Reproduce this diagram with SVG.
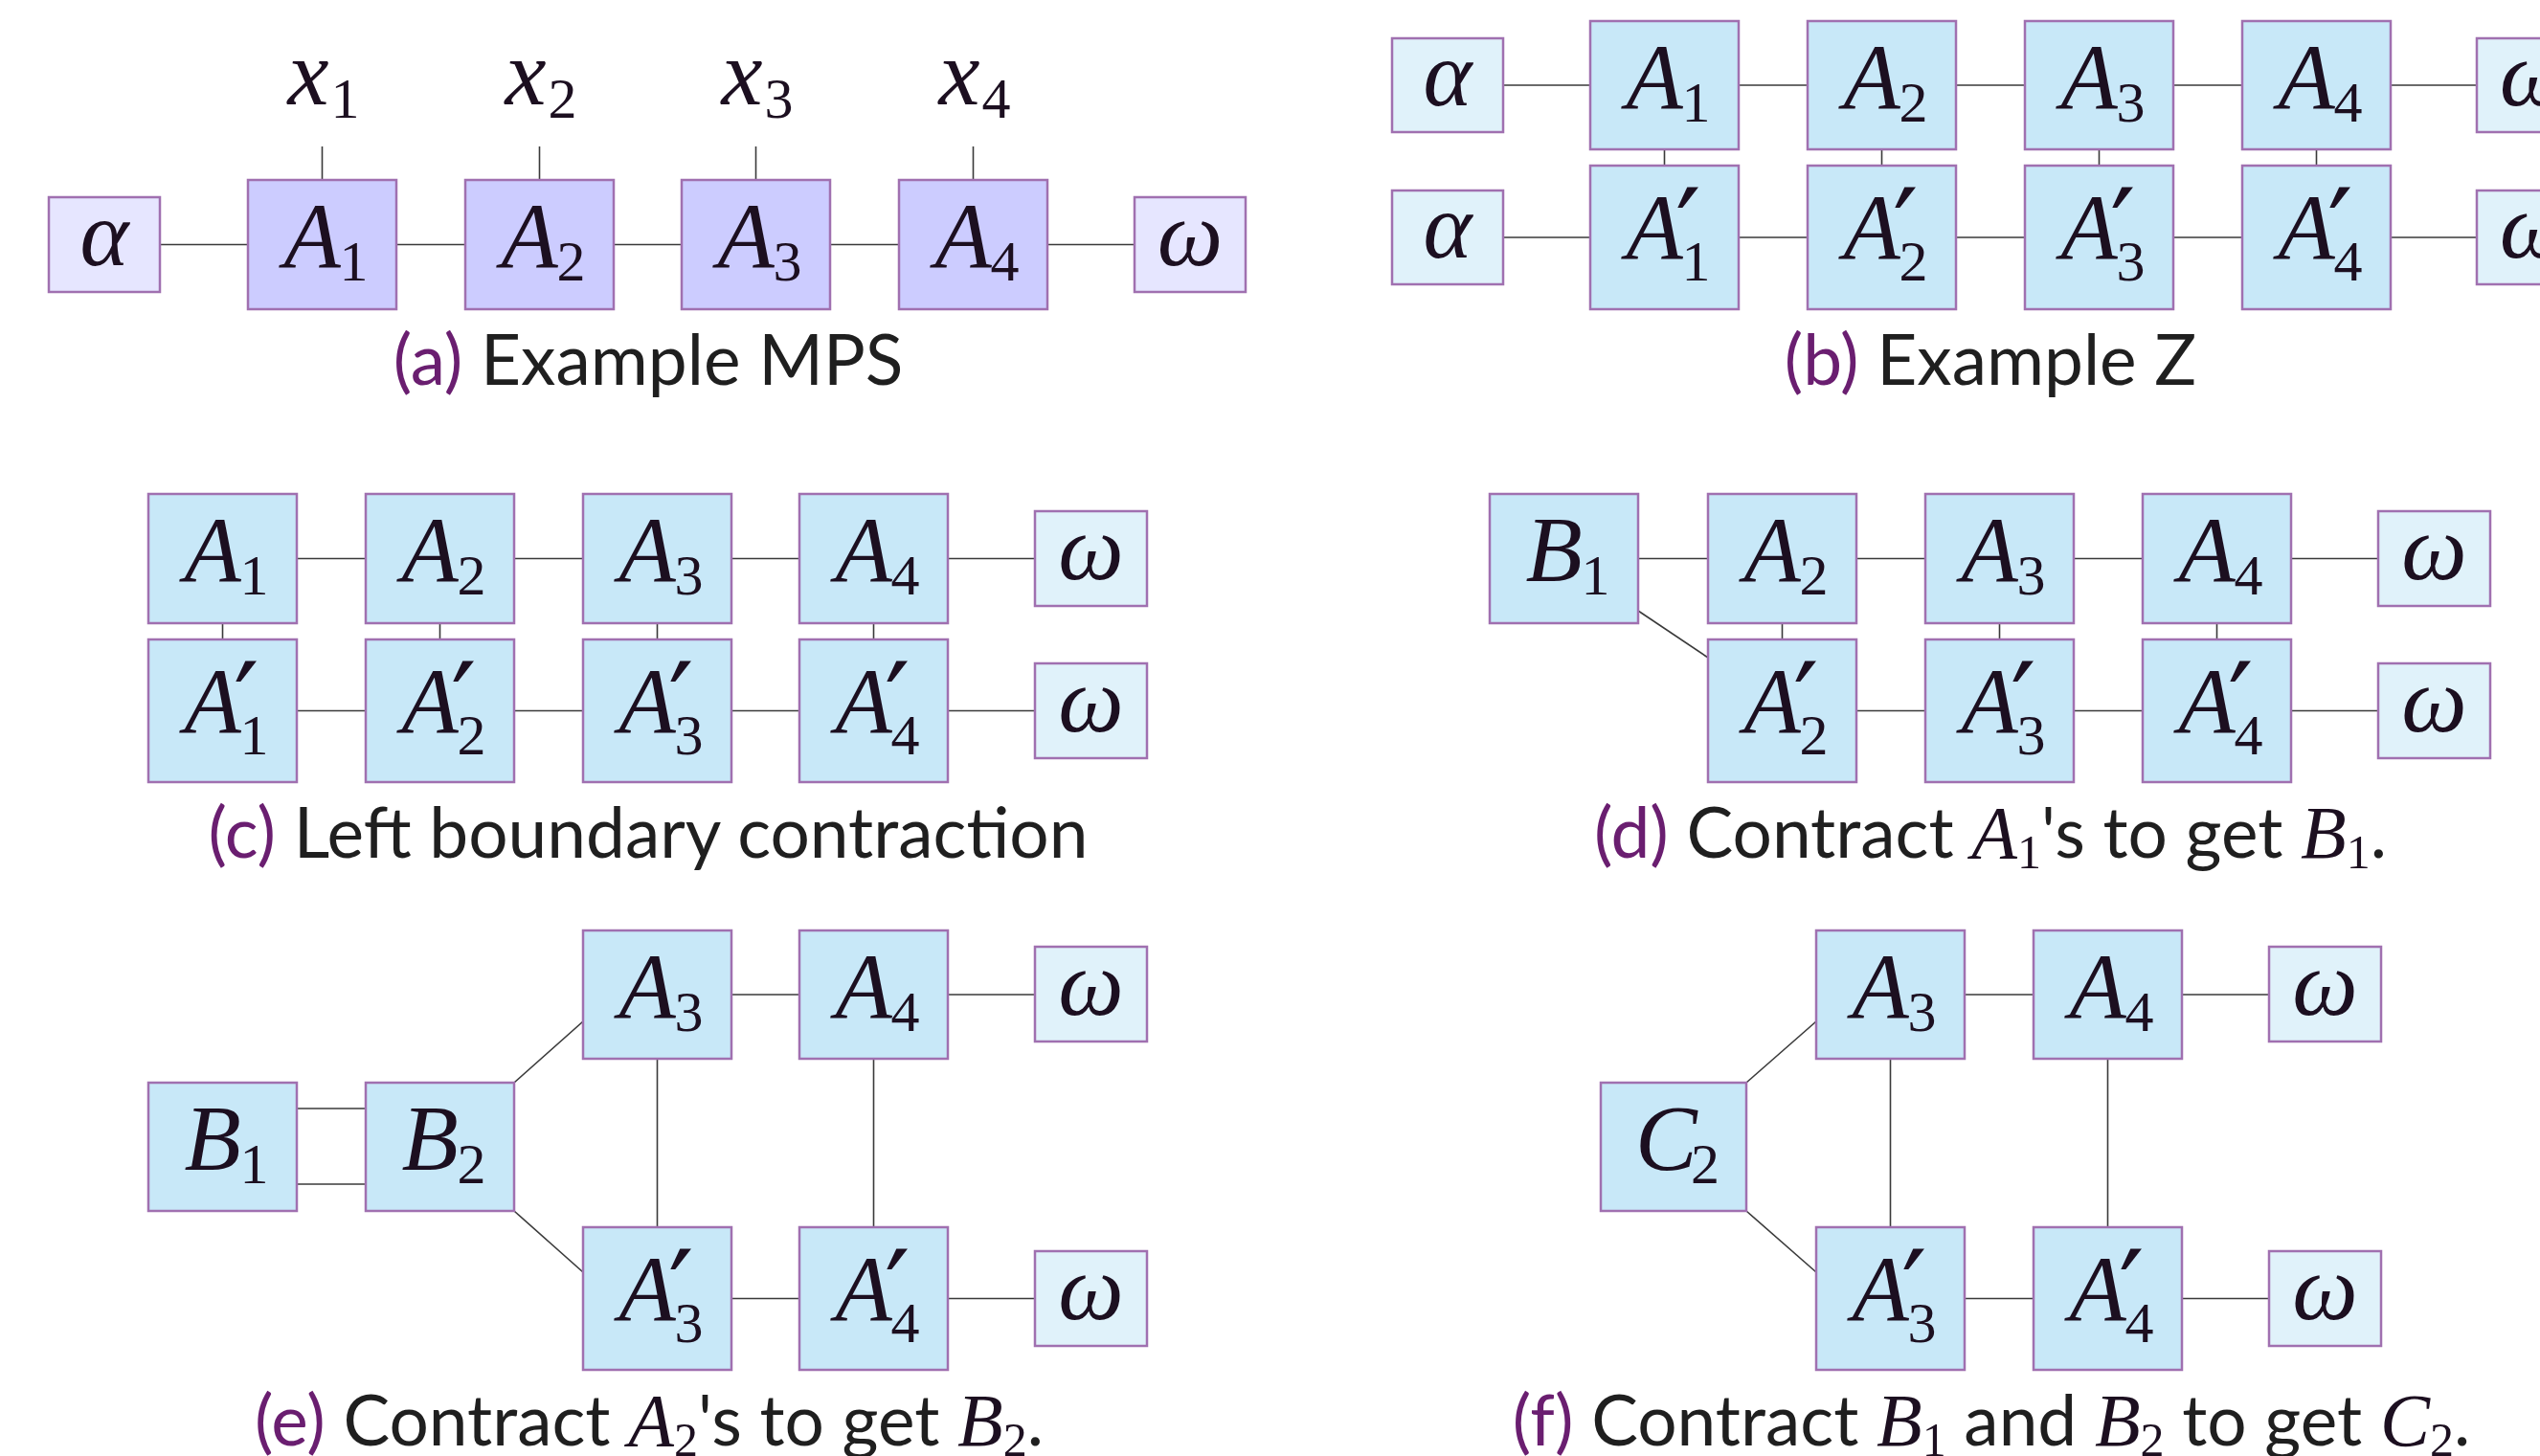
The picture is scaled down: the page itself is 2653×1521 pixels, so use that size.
<svg xmlns="http://www.w3.org/2000/svg" width="2653" height="1521" viewBox="0 0 2653 1521">
<style>
.lav{fill:#CCCCFF;stroke:#A070B0;stroke-width:2.5}
.lavE{fill:#E6E6FF;stroke:#A070B0;stroke-width:2.5}
.blu{fill:#C8E8F8;stroke:#A070B0;stroke-width:2.5}
.bluE{fill:#E0F2FA;stroke:#A070B0;stroke-width:2.5}
.m{font-family:"Liberation Serif",serif;font-style:italic;font-size:97px;fill:#1c0f20}
.s{font-style:normal;font-size:60px}
.p{font-family:"DejaVu Serif",serif;font-style:normal;font-size:118px}
.g{text-anchor:middle}
.cap{font-family:Lato,"Noto Sans",sans-serif;font-size:73px;fill:#1f1f1f;text-anchor:middle}
.lab{fill:#6A1E70}
.cm{font-family:"Liberation Serif",serif;font-style:italic;font-size:78px;fill:#1c0f20}
.cs{font-family:"Liberation Serif",serif;font-style:normal;font-size:50px;fill:#1c0f20}
#connectors line{stroke:#3a3a3a;stroke-width:1.6;fill:none}
</style>
<rect x="0" y="0" width="2653" height="1521" fill="#ffffff"/>
<g id="connectors">
<line x1="167" y1="255.5" x2="259" y2="255.5"/><line x1="414" y1="255.5" x2="486" y2="255.5"/><line x1="641" y1="255.5" x2="712" y2="255.5"/><line x1="867" y1="255.5" x2="939" y2="255.5"/><line x1="1094" y1="255.5" x2="1185" y2="255.5"/>
<line x1="336.5" y1="153" x2="336.5" y2="188"/><line x1="563.5" y1="153" x2="563.5" y2="188"/><line x1="789.5" y1="153" x2="789.5" y2="188"/><line x1="1016.5" y1="153" x2="1016.5" y2="188"/>
<line x1="1570" y1="89" x2="1661" y2="89"/><line x1="1816" y1="89" x2="1888" y2="89"/><line x1="2043" y1="89" x2="2115" y2="89"/><line x1="2270" y1="89" x2="2342" y2="89"/><line x1="2497" y1="89" x2="2587" y2="89"/>
<line x1="1570" y1="248" x2="1661" y2="248"/><line x1="1816" y1="248" x2="1888" y2="248"/><line x1="2043" y1="248" x2="2115" y2="248"/><line x1="2270" y1="248" x2="2342" y2="248"/><line x1="2497" y1="248" x2="2587" y2="248"/>
<line x1="1738.5" y1="156" x2="1738.5" y2="173"/><line x1="1965.5" y1="156" x2="1965.5" y2="173"/><line x1="2192.5" y1="156" x2="2192.5" y2="173"/><line x1="2419.5" y1="156" x2="2419.5" y2="173"/>
<line x1="310" y1="583.5" x2="382" y2="583.5"/><line x1="537" y1="583.5" x2="609" y2="583.5"/><line x1="764" y1="583.5" x2="835" y2="583.5"/><line x1="990" y1="583.5" x2="1081" y2="583.5"/>
<line x1="310" y1="742.5" x2="382" y2="742.5"/><line x1="537" y1="742.5" x2="609" y2="742.5"/><line x1="764" y1="742.5" x2="835" y2="742.5"/><line x1="990" y1="742.5" x2="1081" y2="742.5"/>
<line x1="232.5" y1="651" x2="232.5" y2="668"/><line x1="459.5" y1="651" x2="459.5" y2="668"/><line x1="686.5" y1="651" x2="686.5" y2="668"/><line x1="912.5" y1="651" x2="912.5" y2="668"/>
<line x1="1711" y1="583.5" x2="1784" y2="583.5"/><line x1="1939" y1="583.5" x2="2011" y2="583.5"/><line x1="2166" y1="583.5" x2="2238" y2="583.5"/><line x1="2393" y1="583.5" x2="2484" y2="583.5"/>
<line x1="1939" y1="742.5" x2="2011" y2="742.5"/><line x1="2166" y1="742.5" x2="2238" y2="742.5"/><line x1="2393" y1="742.5" x2="2484" y2="742.5"/>
<line x1="1711" y1="638" x2="1784" y2="687"/>
<line x1="1861.5" y1="651" x2="1861.5" y2="668"/><line x1="2088.5" y1="651" x2="2088.5" y2="668"/><line x1="2315.5" y1="651" x2="2315.5" y2="668"/>
<line x1="764" y1="1039" x2="835" y2="1039"/><line x1="990" y1="1039" x2="1081" y2="1039"/>
<line x1="764" y1="1356.5" x2="835" y2="1356.5"/><line x1="990" y1="1356.5" x2="1081" y2="1356.5"/>
<line x1="310" y1="1158" x2="382" y2="1158"/><line x1="310" y1="1237" x2="382" y2="1237"/>
<line x1="537" y1="1131" x2="609" y2="1067"/><line x1="537" y1="1265" x2="609" y2="1329"/>
<line x1="686.5" y1="1106" x2="686.5" y2="1282"/><line x1="912.5" y1="1106" x2="912.5" y2="1282"/>
<line x1="2052" y1="1039" x2="2124" y2="1039"/><line x1="2279" y1="1039" x2="2370" y2="1039"/>
<line x1="2052" y1="1356.5" x2="2124" y2="1356.5"/><line x1="2279" y1="1356.5" x2="2370" y2="1356.5"/>
<line x1="1824" y1="1131" x2="1897" y2="1067"/><line x1="1824" y1="1265" x2="1897" y2="1329"/>
<line x1="1974.5" y1="1106" x2="1974.5" y2="1282"/><line x1="2201.5" y1="1106" x2="2201.5" y2="1282"/>
</g>

<g id="a-x1"><text class="m" x="300.5" y="109">x<tspan class="s" x="345.5" dy="14">1</tspan></text></g>
<g id="a-x2"><text class="m" x="527.5" y="109">x<tspan class="s" x="572.5" dy="14">2</tspan></text></g>
<g id="a-x3"><text class="m" x="753.5" y="109">x<tspan class="s" x="798.5" dy="14">3</tspan></text></g>
<g id="a-x4"><text class="m" x="980.5" y="109">x<tspan class="s" x="1025.5" dy="14">4</tspan></text></g>
<g id="a-alpha"><rect class="lavE" x="51" y="206" width="116" height="99"/><text class="m g" x="109" y="276.5">α</text></g>
<g id="a-A1"><rect class="lav" x="259" y="188" width="155" height="135"/><text class="m" x="296.5" y="279">A<tspan class="s" x="354.5" dy="14">1</tspan></text></g>
<g id="a-A2"><rect class="lav" x="486" y="188" width="155" height="135"/><text class="m" x="523.5" y="279">A<tspan class="s" x="581.5" dy="14">2</tspan></text></g>
<g id="a-A3"><rect class="lav" x="712" y="188" width="155" height="135"/><text class="m" x="749.5" y="279">A<tspan class="s" x="807.5" dy="14">3</tspan></text></g>
<g id="a-A4"><rect class="lav" x="939" y="188" width="155" height="135"/><text class="m" x="976.5" y="279">A<tspan class="s" x="1034.5" dy="14">4</tspan></text></g>
<g id="a-omega"><rect class="lavE" x="1185" y="206" width="116" height="99"/><text class="m g" x="1243" y="276.5">ω</text></g>
<g id="cap-a"><text class="cap" x="677" y="402"><tspan class="lab">(a)</tspan> Example MPS</text></g>

<g id="b-alpha"><rect class="bluE" x="1454" y="40" width="116" height="98"/><text class="m g" x="1512" y="110">α</text></g>
<g id="b-A1"><rect class="blu" x="1661" y="22" width="155" height="134"/><text class="m" x="1698.5" y="112.5">A<tspan class="s" x="1756.5" dy="14">1</tspan></text></g>
<g id="b-A2"><rect class="blu" x="1888" y="22" width="155" height="134"/><text class="m" x="1925.5" y="112.5">A<tspan class="s" x="1983.5" dy="14">2</tspan></text></g>
<g id="b-A3"><rect class="blu" x="2115" y="22" width="155" height="134"/><text class="m" x="2152.5" y="112.5">A<tspan class="s" x="2210.5" dy="14">3</tspan></text></g>
<g id="b-A4"><rect class="blu" x="2342" y="22" width="155" height="134"/><text class="m" x="2379.5" y="112.5">A<tspan class="s" x="2437.5" dy="14">4</tspan></text></g>
<g id="b-omega"><rect class="bluE" x="2587" y="40" width="116" height="98"/><text class="m g" x="2645" y="110">ω</text></g>
<g id="b-alpha2"><rect class="bluE" x="1454" y="199" width="116" height="98"/><text class="m g" x="1512" y="269">α</text></g>
<g id="b-A1p"><rect class="blu" x="1661" y="173" width="155" height="150"/><text class="m" x="1698.5" y="270">A<tspan class="p" x="1750" dy="12">′</tspan><tspan class="s" x="1756.5" dy="11">1</tspan></text></g>
<g id="b-A2p"><rect class="blu" x="1888" y="173" width="155" height="150"/><text class="m" x="1925.5" y="270">A<tspan class="p" x="1977" dy="12">′</tspan><tspan class="s" x="1983.5" dy="11">2</tspan></text></g>
<g id="b-A3p"><rect class="blu" x="2115" y="173" width="155" height="150"/><text class="m" x="2152.5" y="270">A<tspan class="p" x="2204" dy="12">′</tspan><tspan class="s" x="2210.5" dy="11">3</tspan></text></g>
<g id="b-A4p"><rect class="blu" x="2342" y="173" width="155" height="150"/><text class="m" x="2379.5" y="270">A<tspan class="p" x="2431" dy="12">′</tspan><tspan class="s" x="2437.5" dy="11">4</tspan></text></g>
<g id="b-omega2"><rect class="bluE" x="2587" y="199" width="116" height="98"/><text class="m g" x="2645" y="269">ω</text></g>
<g id="cap-b"><text class="cap" x="2079" y="402"><tspan class="lab">(b)</tspan> Example Z</text></g>

<g id="c-A1"><rect class="blu" x="155" y="516" width="155" height="135"/><text class="m" x="192.5" y="607">A<tspan class="s" x="250.5" dy="14">1</tspan></text></g>
<g id="c-A2"><rect class="blu" x="382" y="516" width="155" height="135"/><text class="m" x="419.5" y="607">A<tspan class="s" x="477.5" dy="14">2</tspan></text></g>
<g id="c-A3"><rect class="blu" x="609" y="516" width="155" height="135"/><text class="m" x="646.5" y="607">A<tspan class="s" x="704.5" dy="14">3</tspan></text></g>
<g id="c-A4"><rect class="blu" x="835" y="516" width="155" height="135"/><text class="m" x="872.5" y="607">A<tspan class="s" x="930.5" dy="14">4</tspan></text></g>
<g id="c-omega"><rect class="bluE" x="1081" y="534" width="117" height="99"/><text class="m g" x="1139.5" y="604.5">ω</text></g>
<g id="c-A1p"><rect class="blu" x="155" y="668" width="155" height="149"/><text class="m" x="192.5" y="764.5">A<tspan class="p" x="244" dy="12">′</tspan><tspan class="s" x="250.5" dy="11">1</tspan></text></g>
<g id="c-A2p"><rect class="blu" x="382" y="668" width="155" height="149"/><text class="m" x="419.5" y="764.5">A<tspan class="p" x="471" dy="12">′</tspan><tspan class="s" x="477.5" dy="11">2</tspan></text></g>
<g id="c-A3p"><rect class="blu" x="609" y="668" width="155" height="149"/><text class="m" x="646.5" y="764.5">A<tspan class="p" x="698" dy="12">′</tspan><tspan class="s" x="704.5" dy="11">3</tspan></text></g>
<g id="c-A4p"><rect class="blu" x="835" y="668" width="155" height="149"/><text class="m" x="872.5" y="764.5">A<tspan class="p" x="924" dy="12">′</tspan><tspan class="s" x="930.5" dy="11">4</tspan></text></g>
<g id="c-omega2"><rect class="bluE" x="1081" y="693" width="117" height="99"/><text class="m g" x="1139.5" y="763.5">ω</text></g>
<g id="cap-c"><text class="cap" x="677" y="896"><tspan class="lab">(c)</tspan> Left boundary contraction</text></g>

<g id="d-B1"><rect class="blu" x="1556" y="516" width="155" height="135"/><text class="m" x="1593.5" y="607">B<tspan class="s" x="1651.5" dy="14">1</tspan></text></g>
<g id="d-A2"><rect class="blu" x="1784" y="516" width="155" height="135"/><text class="m" x="1821.5" y="607">A<tspan class="s" x="1879.5" dy="14">2</tspan></text></g>
<g id="d-A3"><rect class="blu" x="2011" y="516" width="155" height="135"/><text class="m" x="2048.5" y="607">A<tspan class="s" x="2106.5" dy="14">3</tspan></text></g>
<g id="d-A4"><rect class="blu" x="2238" y="516" width="155" height="135"/><text class="m" x="2275.5" y="607">A<tspan class="s" x="2333.5" dy="14">4</tspan></text></g>
<g id="d-omega"><rect class="bluE" x="2484" y="534" width="117" height="99"/><text class="m g" x="2542.5" y="604.5">ω</text></g>
<g id="d-A2p"><rect class="blu" x="1784" y="668" width="155" height="149"/><text class="m" x="1821.5" y="764.5">A<tspan class="p" x="1873" dy="12">′</tspan><tspan class="s" x="1879.5" dy="11">2</tspan></text></g>
<g id="d-A3p"><rect class="blu" x="2011" y="668" width="155" height="149"/><text class="m" x="2048.5" y="764.5">A<tspan class="p" x="2100" dy="12">′</tspan><tspan class="s" x="2106.5" dy="11">3</tspan></text></g>
<g id="d-A4p"><rect class="blu" x="2238" y="668" width="155" height="149"/><text class="m" x="2275.5" y="764.5">A<tspan class="p" x="2327" dy="12">′</tspan><tspan class="s" x="2333.5" dy="11">4</tspan></text></g>
<g id="d-omega2"><rect class="bluE" x="2484" y="693" width="117" height="99"/><text class="m g" x="2542.5" y="763.5">ω</text></g>
<g id="cap-d"><text class="cap" x="2079" y="896"><tspan class="lab">(d)</tspan> Contract <tspan class="cm">A</tspan><tspan class="cs" dy="11">1</tspan><tspan dy="-11">'s to get </tspan><tspan class="cm">B</tspan><tspan class="cs" dy="11">1</tspan><tspan dy="-11">.</tspan></text></g>

<g id="e-B1"><rect class="blu" x="155" y="1131" width="155" height="134"/><text class="m" x="192.5" y="1221.5">B<tspan class="s" x="250.5" dy="14">1</tspan></text></g>
<g id="e-B2"><rect class="blu" x="382" y="1131" width="155" height="134"/><text class="m" x="419.5" y="1221.5">B<tspan class="s" x="477.5" dy="14">2</tspan></text></g>
<g id="e-A3"><rect class="blu" x="609" y="972" width="155" height="134"/><text class="m" x="646.5" y="1062.5">A<tspan class="s" x="704.5" dy="14">3</tspan></text></g>
<g id="e-A4"><rect class="blu" x="835" y="972" width="155" height="134"/><text class="m" x="872.5" y="1062.5">A<tspan class="s" x="930.5" dy="14">4</tspan></text></g>
<g id="e-omega"><rect class="bluE" x="1081" y="989" width="117" height="99"/><text class="m g" x="1139.5" y="1059.5">ω</text></g>
<g id="e-A3p"><rect class="blu" x="609" y="1282" width="155" height="149"/><text class="m" x="646.5" y="1378.5">A<tspan class="p" x="698" dy="12">′</tspan><tspan class="s" x="704.5" dy="11">3</tspan></text></g>
<g id="e-A4p"><rect class="blu" x="835" y="1282" width="155" height="149"/><text class="m" x="872.5" y="1378.5">A<tspan class="p" x="924" dy="12">′</tspan><tspan class="s" x="930.5" dy="11">4</tspan></text></g>
<g id="e-omega2"><rect class="bluE" x="1081" y="1307" width="117" height="99"/><text class="m g" x="1139.5" y="1377.5">ω</text></g>
<g id="cap-e"><text class="cap" x="678" y="1510"><tspan class="lab">(e)</tspan> Contract <tspan class="cm">A</tspan><tspan class="cs" dy="11">2</tspan><tspan dy="-11">'s to get </tspan><tspan class="cm">B</tspan><tspan class="cs" dy="11">2</tspan><tspan dy="-11">.</tspan></text></g>

<g id="f-C2"><rect class="blu" x="1672" y="1131" width="152" height="134"/><text class="m" x="1708" y="1221.5">C<tspan class="s" x="1766" dy="14">2</tspan></text></g>
<g id="f-A3"><rect class="blu" x="1897" y="972" width="155" height="134"/><text class="m" x="1934.5" y="1062.5">A<tspan class="s" x="1992.5" dy="14">3</tspan></text></g>
<g id="f-A4"><rect class="blu" x="2124" y="972" width="155" height="134"/><text class="m" x="2161.5" y="1062.5">A<tspan class="s" x="2219.5" dy="14">4</tspan></text></g>
<g id="f-omega"><rect class="bluE" x="2370" y="989" width="117" height="99"/><text class="m g" x="2428.5" y="1059.5">ω</text></g>
<g id="f-A3p"><rect class="blu" x="1897" y="1282" width="155" height="149"/><text class="m" x="1934.5" y="1378.5">A<tspan class="p" x="1986" dy="12">′</tspan><tspan class="s" x="1992.5" dy="11">3</tspan></text></g>
<g id="f-A4p"><rect class="blu" x="2124" y="1282" width="155" height="149"/><text class="m" x="2161.5" y="1378.5">A<tspan class="p" x="2213" dy="12">′</tspan><tspan class="s" x="2219.5" dy="11">4</tspan></text></g>
<g id="f-omega2"><rect class="bluE" x="2370" y="1307" width="117" height="99"/><text class="m g" x="2428.5" y="1377.5">ω</text></g>
<g id="cap-f"><text class="cap" x="2080" y="1510"><tspan class="lab">(f)</tspan> Contract <tspan class="cm">B</tspan><tspan class="cs" dy="11">1</tspan><tspan dy="-11"> and </tspan><tspan class="cm">B</tspan><tspan class="cs" dy="11">2</tspan><tspan dy="-11"> to get </tspan><tspan class="cm">C</tspan><tspan class="cs" dy="11">2</tspan><tspan dy="-11">.</tspan></text></g>
</svg>
